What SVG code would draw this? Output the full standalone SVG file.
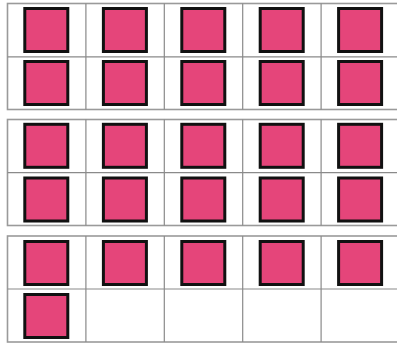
<svg xmlns="http://www.w3.org/2000/svg" xmlns:xlink="http://www.w3.org/1999/xlink" width="397" height="344" viewBox="0 0 397 344">
<style>
.grid{fill:none;stroke:#8a8a8a;stroke-width:1.2}
.outer{fill:#fff;stroke:#9a9a9a;stroke-width:1.6}
.sq{fill:#e5457a;stroke:#111;stroke-width:3}
</style>
<defs>
<rect id="s" class="sq" x="-21.5" y="-21.5" width="43" height="43"/>
</defs>
<rect width="397" height="344" fill="#fff"/>
<g id="table1">
<rect class="outer" x="7.5" y="3.5" width="392" height="106"/>
<path class="grid" d="M7.5 56.8H399.5M85.9 3.5V109.5M164.3 3.5V109.5M242.7 3.5V109.5M321.1 3.5V109.5"/>
</g>
<g id="table2">
<rect class="outer" x="7.5" y="119.5" width="392" height="106"/>
<path class="grid" d="M7.5 172.6H399.5M85.9 119.5V225.5M164.3 119.5V225.5M242.7 119.5V225.5M321.1 119.5V225.5"/>
</g>
<g id="table3">
<rect class="outer" x="7.5" y="236" width="392" height="106"/>
<path class="grid" d="M7.5 289H399.5M85.9 236V342M164.3 236V342M242.7 236V342M321.1 236V342"/>
</g>
<g id="squares">
<use xlink:href="#s" x="46.3" y="30"/><use xlink:href="#s" x="124.9" y="30"/><use xlink:href="#s" x="203.3" y="30"/><use xlink:href="#s" x="281.7" y="30"/><use xlink:href="#s" x="360.1" y="30"/>
<use xlink:href="#s" x="46.3" y="83"/><use xlink:href="#s" x="124.9" y="83"/><use xlink:href="#s" x="203.3" y="83"/><use xlink:href="#s" x="281.7" y="83"/><use xlink:href="#s" x="360.1" y="83"/>
<use xlink:href="#s" x="46.3" y="145.8"/><use xlink:href="#s" x="124.9" y="145.8"/><use xlink:href="#s" x="203.3" y="145.8"/><use xlink:href="#s" x="281.7" y="145.8"/><use xlink:href="#s" x="360.1" y="145.8"/>
<use xlink:href="#s" x="46.3" y="199.5"/><use xlink:href="#s" x="124.9" y="199.5"/><use xlink:href="#s" x="203.3" y="199.5"/><use xlink:href="#s" x="281.7" y="199.5"/><use xlink:href="#s" x="360.1" y="199.5"/>
<use xlink:href="#s" x="46.3" y="263"/><use xlink:href="#s" x="124.9" y="263"/><use xlink:href="#s" x="203.3" y="263"/><use xlink:href="#s" x="281.7" y="263"/><use xlink:href="#s" x="360.1" y="263"/>
<use xlink:href="#s" x="46.3" y="316"/>
</g>
</svg>
